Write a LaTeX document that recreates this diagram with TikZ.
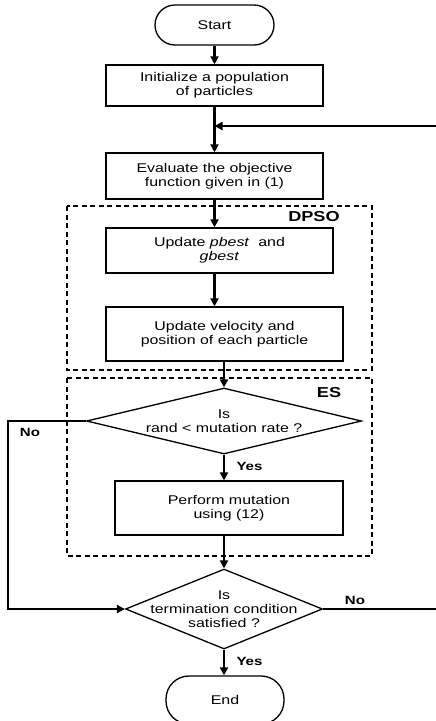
\documentclass[tikz,border=0pt]{standalone}
\usepackage{fontspec}
\setmainfont[FakeStretch=1.26]{Liberation Sans}
\usetikzlibrary{arrows.meta,shapes.geometric}

\begin{document}
\begin{tikzpicture}[
    font=\fontsize{7.2}{8}\selectfont,
    box/.style={draw,line width=0.75pt,align=center,inner sep=0pt},
    term/.style={draw,line width=0.75pt,inner sep=0pt},
    cond/.style={draw,diamond,line width=0.75pt,align=center,inner sep=-4mm},
    arr/.style={line width=1.2pt,-{Triangle[length=0.16cm,width=0.16cm]}},
    group/.style={line width=0.75pt,dash pattern=on 0.1cm off 0.07cm},
    tag/.style={font=\fontsize{8.2}{9}\selectfont\bfseries},
    ans/.style={font=\fontsize{6.8}{8}\selectfont\bfseries}
]
    \useasboundingbox (0,0) rectangle (8.72,-14.42);

    % Dashed groups
    \draw[group] (1.34,-4.12) rectangle (7.44,-7.40);
    \draw[group] (1.34,-7.56) rectangle (7.44,-11.12);
    \node[tag] (dpso) at (6.28,-4.34) {DPSO};
    \node[tag] (es) at (6.58,-7.86) {ES};

    % Steps
    \node[term,rounded corners=0.4cm,minimum width=2.38cm,minimum height=0.8cm] (start) at (4.29,-0.5) {Start};
    \node[box,minimum width=4.34cm,minimum height=0.82cm] (init) at (4.29,-1.71) {Initialize a population\\of particles};
    \node[box,minimum width=4.34cm,minimum height=0.92cm] (eval) at (4.29,-3.52) {Evaluate the objective\\function given in (1)};
    \node[box,minimum width=4.54cm,minimum height=0.9cm] (best) at (4.39,-5.01) {Update \textit{pbest}~ and\\\textit{gbest}};
    \node[box,minimum width=4.74cm,minimum height=1.08cm] (vel) at (4.49,-6.68) {Update velocity and\\position of each particle};
    \node[cond,aspect=4.17,minimum width=5.5cm,minimum height=1.32cm] (rate) at (4.48,-8.42) {Is\\rand < mutation rate ?};
    \node[box,minimum width=4.56cm,minimum height=1.08cm] (mut) at (4.58,-10.16) {Perform mutation\\using (12)};
    \node[cond,aspect=2.46,minimum width=3.94cm,minimum height=1.6cm] (stop) at (4.48,-12.18) {Is\\termination condition\\satisfied ?};
    \node[term,rounded corners=0.46cm,minimum width=2.36cm,minimum height=0.96cm] (end) at (4.5,-14.0) {End};

    % Turning points
    \coordinate (loop) at (4.29,-2.52);
    \coordinate (rightturn) at (9.0,-2.52);
    \coordinate (leftturn) at (0.16,-8.42);

    % Flow
    \draw[arr] (start) -- (init);
    \draw[arr] (init) -- (eval);
    \draw[arr] (eval.south) -- (best.north -| eval);
    \draw[arr] (best.south -| eval) -- (vel.north -| eval);
    \draw[arr] (vel.south -| rate) -- (rate.north);
    \draw[arr] (rate.south) -- (mut.north -| rate);
    \draw[arr] (mut.south -| stop) -- (stop.north);
    \draw[arr] (stop.south) -- (end.north -| stop);
    \draw[arr] (rate.west) -- (leftturn) |- (stop.west);
    \draw[arr] (stop.east) -| (rightturn) -- (loop);

    % Labels
    \node[ans] (no1) at (0.6,-8.64) {No};
    \node[ans] (no2) at (7.1,-12.0) {No};
    \node[ans] (yes1) at (4.99,-9.32) {Yes};
    \node[ans] (yes2) at (4.99,-13.22) {Yes};
\end{tikzpicture}
\end{document}
